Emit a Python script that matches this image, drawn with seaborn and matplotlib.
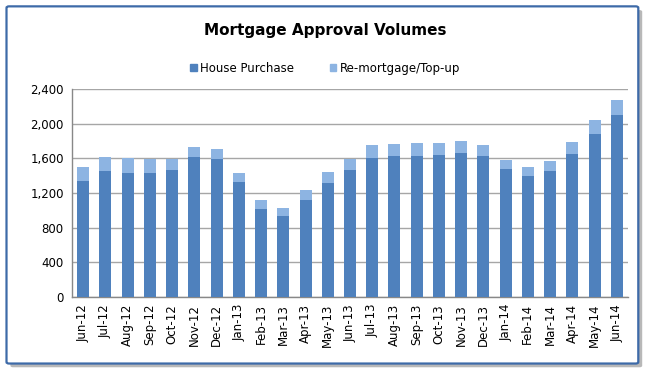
import matplotlib
matplotlib.use("Agg")
import matplotlib.pyplot as plt
from matplotlib.patches import Patch, FancyBboxPatch
import pandas as pd
import seaborn as sns

months = ["Jun-12", "Jul-12", "Aug-12", "Sep-12", "Oct-12", "Nov-12", "Dec-12",
          "Jan-13", "Feb-13", "Mar-13", "Apr-13", "May-13", "Jun-13", "Jul-13",
          "Aug-13", "Sep-13", "Oct-13", "Nov-13", "Dec-13", "Jan-14", "Feb-14",
          "Mar-14", "Apr-14", "May-14", "Jun-14"]
house_purchase = [1338, 1450, 1435, 1435, 1465, 1619, 1588, 1323, 1019, 935, 1115,
                  1311, 1465, 1600, 1627, 1631, 1635, 1662, 1631, 1477, 1392, 1450,
                  1646, 1885, 2096]
remortgage = [158, 165, 165, 157, 127, 116, 120, 104, 104, 96, 116, 127, 127, 150,
              142, 142, 138, 134, 127, 108, 104, 115, 139, 153, 173]

HP_COLOR = "#4F81BD"
RM_COLOR = "#8DB4E2"

df = pd.DataFrame({"Month": months, "House Purchase": house_purchase,
                   "Re-mortgage/Top-up": remortgage})
df["Total"] = df["House Purchase"] + df["Re-mortgage/Top-up"]

sns.set_theme(style="white")
plt.rcParams['font.family'] = ['DejaVu Sans']
plt.rcParams['text.color'] = 'black'
plt.rcParams['xtick.color'] = 'black'
plt.rcParams['ytick.color'] = 'black'

fig = plt.figure(figsize=(6.5, 3.74), dpi=100)
ax = fig.add_axes([0.111, 0.206, 0.855, 0.556])

# outer frame with shadow
shadow = FancyBboxPatch((0.016, 0.018), 0.972, 0.955, boxstyle="round,pad=0,rounding_size=0.004",
                        transform=fig.transFigure, facecolor="#b8b8b8", edgecolor="none", zorder=-2)
frame = FancyBboxPatch((0.01, 0.028), 0.972, 0.955, boxstyle="round,pad=0,rounding_size=0.004",
                       transform=fig.transFigure, facecolor="white", edgecolor="#3d6aa8",
                       linewidth=1.6, zorder=-1)
fig.patches.extend([shadow, frame])

sns.barplot(data=df, x="Month", y="Total", color=RM_COLOR, width=0.54,
            saturation=1, linewidth=0, ax=ax, zorder=3)
sns.barplot(data=df, x="Month", y="House Purchase", color=HP_COLOR, width=0.54,
            saturation=1, linewidth=0, ax=ax, zorder=3)

ax.set_ylim(0, 2400)
ax.set_yticks(range(0, 2401, 400))
ax.set_yticklabels([f"{v:,}" for v in range(0, 2401, 400)], fontsize=8.5)
ax.set_xlim(-0.5, len(months) - 0.5)
ax.tick_params(axis="x", labelrotation=90, labelsize=8.5, length=3, color="#888888", pad=2)
ax.tick_params(axis="y", length=3, color="#888888", pad=3)
ax.set_xticks(range(len(months)))
ax.set_xticklabels(months)
ax.set_xlabel("")
ax.set_ylabel("")
ax.yaxis.grid(True, color="#a6a6a6", linewidth=1)
ax.set_axisbelow(True)
for s in ["top", "right"]:
    ax.spines[s].set_visible(False)
for s in ["left", "bottom"]:
    ax.spines[s].set_color("#888888")
    ax.spines[s].set_linewidth(1)
ax.set_facecolor("none")

fig.text(0.5, 0.918, "Mortgage Approval Volumes", ha="center", va="center",
         fontsize=11, fontweight="bold", color="black")

handles = [Patch(color=HP_COLOR, label="House Purchase"),
           Patch(color=RM_COLOR, label="Re-mortgage/Top-up")]
fig.legend(handles=handles, loc="center", bbox_to_anchor=(0.5, 0.818), ncol=2,
           frameon=False, fontsize=8.5, handlelength=0.55, handleheight=0.55,
           handletextpad=0.3, columnspacing=3)

fig.savefig("out.png", dpi=100)
